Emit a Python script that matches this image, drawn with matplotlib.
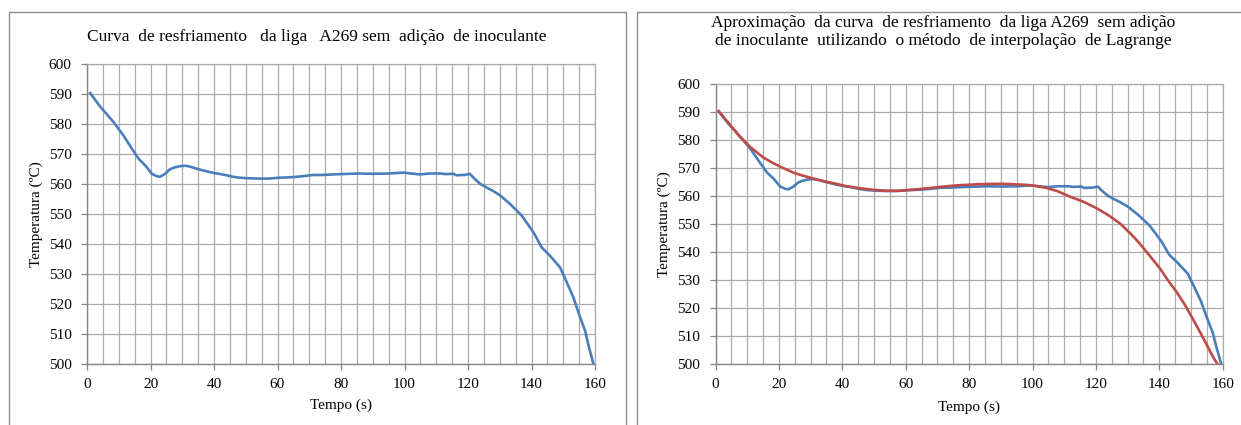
import matplotlib
matplotlib.use("Agg")
import matplotlib.pyplot as plt
from matplotlib.patches import Rectangle
from matplotlib.ticker import MultipleLocator

# ---- data ----
tempo_medido = [1, 4, 8.3, 11.4, 14, 16.2, 18.5, 20.4, 22, 23, 24.6, 26, 27.2, 29,
                30.9, 32.5, 34.5, 37, 39.8, 42, 44, 46, 48.2, 51, 54.5, 57, 60.8,
                65, 68, 71.3, 74, 77.6, 80, 85.5, 90.2, 95, 99.6, 102, 104.9, 108,
                111.2, 113, 115.4, 116.4, 118, 119, 120.6, 122, 123.8, 125.9, 128,
                130.1, 133.2, 136.9, 140.6, 143.2, 145.8, 149, 151, 153.2, 155,
                156.9, 158, 159.5]
temp_medida = [590.3, 586.0, 580.7, 576.3, 572.0, 568.5, 566.0, 563.4, 562.6, 562.4,
               563.4, 564.8, 565.4, 565.9, 566.1, 565.8, 565.1, 564.4, 563.7, 563.3,
               562.9, 562.4, 562.1, 561.9, 561.8, 561.8, 562.1, 562.3, 562.6, 563.0,
               563.0, 563.2, 563.3, 563.5, 563.4, 563.5, 563.8, 563.5, 563.2, 563.5,
               563.5, 563.3, 563.4, 562.9, 563.0, 563.0, 563.4, 561.8, 560.1, 558.8,
               557.6, 556.2, 553.4, 549.5, 543.9, 538.9, 536.1, 532.2, 527.5, 522.2,
               516.5, 511.0, 506.0, 500.0]

tempo_lagrange = [1, 4, 7.7, 11, 15.1, 18, 21.4, 25, 28.8, 33, 37.2, 41, 45.6, 50, 54,
                  58, 62.4, 67, 71.9, 77, 82.4, 88.7, 93, 98.2, 101, 104.5, 108,
                  111.8, 116, 120.3, 124, 127.6, 131, 133.9, 137, 140.2, 143, 145.5,
                  148, 150.7, 153, 155, 157, 158.3]
temp_lagrange = [590.4, 586.3, 581.2, 577.5, 573.8, 571.9, 570.0, 568.2, 566.9, 565.6,
                 564.6, 563.6, 562.8, 562.2, 561.9, 561.9, 562.3, 562.8, 563.4, 563.9,
                 564.2, 564.4, 564.3, 564.0, 563.6, 562.9, 561.7, 559.8, 558.0, 555.6,
                 553.1, 550.2, 546.5, 542.9, 538.6, 534.1, 529.4, 525.6, 521.2, 515.8,
                 511.0, 506.7, 502.3, 500.0]

x_ticks = [0, 20, 40, 60, 80, 100, 120, 140, 160]
y_ticks = [500, 510, 520, 530, 540, 550, 560, 570, 580, 590, 600]

titulo_esq = "Curva  de resfriamento   da liga   A269 sem  adição  de inoculante"
titulo_dir = ("Aproximação  da curva  de resfriamento  da liga A269  sem adição\n"
              "de inoculante  utilizando  o método  de interpolação  de Lagrange")
rotulo_x = "Tempo (s)"
rotulo_y = "Temperatura (ºC)"

# ---- style ----
plt.rcParams['font.family'] = ['Liberation Serif', 'DejaVu Serif']
W, H = 1241, 425
fig = plt.figure(figsize=(W / 100, H / 100), dpi=100)
fig.patch.set_facecolor('white')

BLUE = '#4A7EBB'
RED = '#BE4B48'
GRID = '#ABABAB'
AXC = '#868686'


def fx(px):
    return px / W


def fy(py):
    return 1 - py / H


# panel frames
for x0, x1 in [(9, 626), (637, 1250)]:
    fig.patches.append(Rectangle((fx(x0), fy(440)), fx(x1) - fx(x0), fy(11.5) - fy(440),
                                 transform=fig.transFigure, fill=False,
                                 edgecolor='#8E8E8E', lw=1.0))


def style_axes(ax):
    ax.set_xlim(0, 160)
    ax.set_ylim(500, 600)
    ax.set_xticks(x_ticks)
    ax.set_yticks(y_ticks)
    ax.xaxis.set_minor_locator(MultipleLocator(5))
    ax.grid(True, which='major', color=GRID, lw=0.9)
    ax.grid(True, which='minor', axis='x', color=GRID, lw=0.9)
    ax.tick_params(which='minor', length=0)
    ax.tick_params(which='major', direction='out', length=4, color=AXC,
                   labelsize=11, width=0.9)
    ax.tick_params(axis='x', which='major', pad=6)
    ax.tick_params(axis='y', which='major', pad=7)
    for s in ['left', 'bottom']:
        ax.spines[s].set_color(AXC)
        ax.spines[s].set_linewidth(1.0)
    for s in ['top', 'right']:
        ax.spines[s].set_color(GRID)
        ax.spines[s].set_linewidth(0.9)
    ax.set_axisbelow(True)


# left chart
ax1 = fig.add_axes([fx(87), fy(364), fx(595) - fx(87), fy(64) - fy(364)])
style_axes(ax1)
ax1.plot(tempo_medido, temp_medida, color=BLUE, lw=1.9, solid_joinstyle='round')
fig.text(fx(317), fy(37), titulo_esq, ha='center', va='center', fontsize=12.5)
fig.text(fx(341), fy(405), rotulo_x, ha='center', va='center', fontsize=11)
fig.text(fx(36), fy(214), rotulo_y, ha='center', va='center', rotation=90, fontsize=11)

# right chart
ax2 = fig.add_axes([fx(715.5), fy(363.7), fx(1222.7) - fx(715.5), fy(84.3) - fy(363.7)])
style_axes(ax2)
ax2.plot(tempo_medido, temp_medida, color=BLUE, lw=1.9, solid_joinstyle='round')
ax2.plot(tempo_lagrange, temp_lagrange, color=RED, lw=1.9, solid_joinstyle='round')
fig.text(fx(943), fy(32), titulo_dir, ha='center', va='center', fontsize=12.5,
         linespacing=1.15)
fig.text(fx(969), fy(407), rotulo_x, ha='center', va='center', fontsize=11)
fig.text(fx(664), fy(224), rotulo_y, ha='center', va='center', rotation=90, fontsize=11)

fig.savefig('out.png', dpi=100, facecolor='white')
